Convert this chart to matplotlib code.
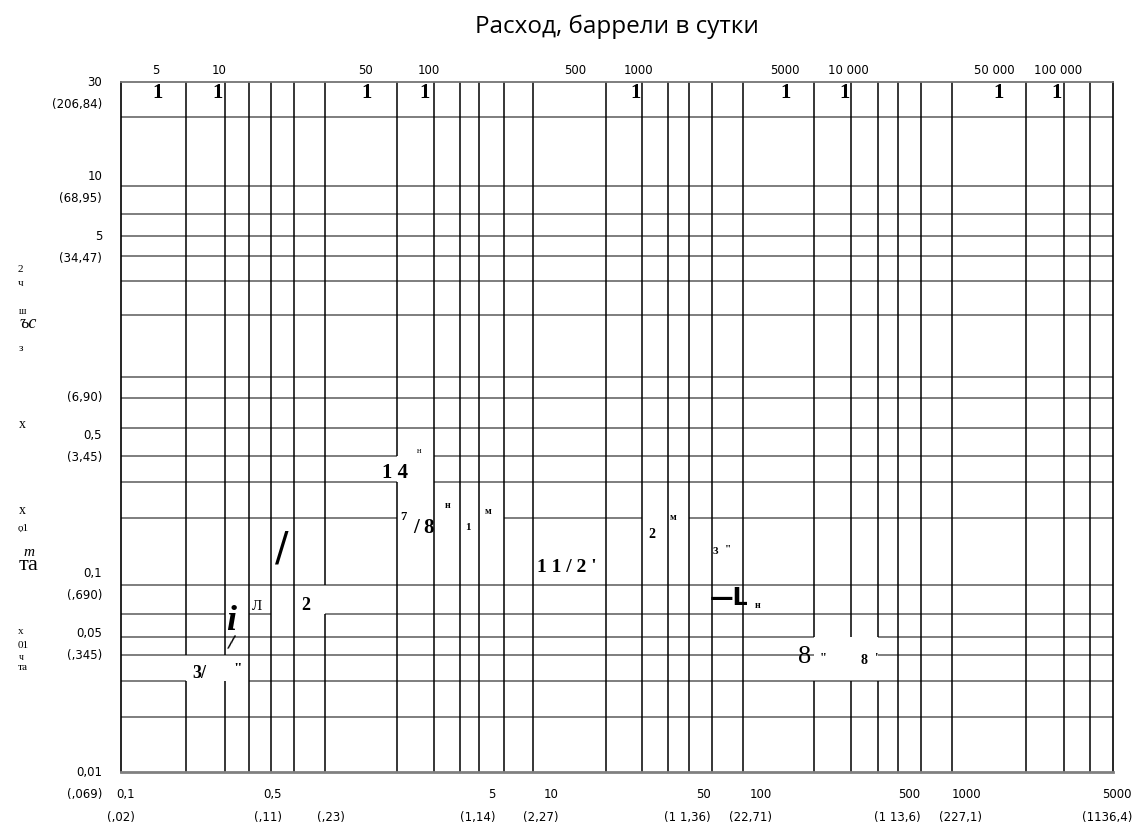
import matplotlib
matplotlib.use('Agg')
import matplotlib.pyplot as plt
from matplotlib.ticker import NullLocator

# top axis: flow, barrels per day
top_ticks = [5, 10, 50, 100, 500, 1000, 5000, 10000, 50000, 100000]
top_labels = ['5', '10', '50', '100', '500', '1000', '5000', '10 000', '50 000', '100 000']

# bottom axis: gal/min with m3/h in brackets
bottom_ticks = [0.1, 0.5, 1, 5, 10, 50, 100, 500, 1000, 5000]
bottom_labels = ['0,1\n(,02)', '0,5\n(,11)', '\n(,23)', '5\n(1,14)', '10\n(2,27)',
                 '50\n(1 1,36)', '100\n(22,71)', '500\n(1 13,6)', '1000\n(227,1)', '5000\n(1136,4)']
BBL_PER_GPM = 34.2857

# left axis
left_ticks = [30, 10, 5, 1, 0.5, 0.1, 0.05, 0.01]
left_top = ['30', '10', '5', '', '0,5', '0,1', '0,05', '0,01']
left_bottom = ['(206,84)', '(68,95)', '(34,47)', '(6,90)', '(3,45)', '(,690)', '(,345)', '(,069)']

# nomogram grid
grid_x = [7, 10.7, 14, 17.7, 22.8, 32, 71, 106, 141, 175, 229, 314, 700, 1040, 1380,
          1740, 2240, 3150, 6860, 10300, 13900, 17400, 22400, 31200, 70300, 107000, 142000]
grid_y = [20, 9.0, 6.5, 5.0, 4.0, 3.0, 2.0, 0.98, 0.77, 0.54, 0.39, 0.29, 0.19,
          0.088, 0.063, 0.048, 0.039, 0.029, 0.019]

# blank stretches in the scanned grid (index pairs into the other grid list)
h_gaps = {10: [(6, 7)], 11: [(6, 7)], 12: [(6, 10), (13, 15)], 14: [(1, 2), (3, 5)],
          15: [(18, 20)], 16: [(18, 20)], 17: [(0, 2)]}
v_gaps = {0: [(16, 17)], 1: [(16, 17)], 5: [(13, 14)], 6: [(10, 11)],
          18: [(15, 17)], 19: [(15, 17)], 20: [(15, 17)]}

XLIM = (3.42, 183500)
YLIM = (0.01, 30)

W, H = 1148, 827
fig = plt.figure(figsize=(W / 100, H / 100), dpi=100)
L, R, T, B = 121, 1113, 82, 772.3
ax = fig.add_axes([L / W, 1 - B / H, (R - L) / W, (B - T) / H])
ax.set_xscale('log')
ax.set_yscale('log')
ax.set_xlim(*XLIM)
ax.set_ylim(*YLIM)


def segments(lo, hi, gaps, coords):
    segs, start = [], lo
    for a, b in sorted(gaps):
        segs.append((start, coords[a]))
        start = coords[b]
    segs.append((start, hi))
    return segs


for i, y in enumerate(grid_y):
    for x0, x1 in segments(XLIM[0], XLIM[1], h_gaps.get(i, []), grid_x):
        ax.hlines(y, x0, x1, color='#747474', lw=1.3)
for j, x in enumerate(grid_x):
    for y0, y1 in segments(YLIM[1], YLIM[0], v_gaps.get(j, []), grid_y):
        ax.vlines(x, y0, y1, color='black', lw=1.1)

for s in ['left', 'right']:
    ax.spines[s].set_color('black')
    ax.spines[s].set_linewidth(1.2)
ax.spines['top'].set_color('#747474')
ax.spines['top'].set_linewidth(1.3)
ax.spines['bottom'].set_color('#808080')
ax.spines['bottom'].set_linewidth(2)

# top ticks
ax.xaxis.tick_top()
ax.set_xticks(top_ticks, top_labels)
ax.xaxis.set_minor_locator(NullLocator())
ax.tick_params(axis='x', length=0, pad=3.6, labelsize=8.5)

# left labels
ax.set_yticks([])
ax.yaxis.set_minor_locator(NullLocator())
ytr = ax.get_yaxis_transform()
for v, t1, t2 in zip(left_ticks, left_top, left_bottom):
    ax.annotate(t1, xy=(0, v), xycoords=ytr, xytext=(-13.5, 0), textcoords='offset points',
                ha='right', va='center', fontsize=8.5, annotation_clip=False)
    ax.annotate(t2, xy=(0, v), xycoords=ytr, xytext=(-13.5, -16), textcoords='offset points',
                ha='right', va='center', fontsize=8.5, annotation_clip=False)

# bottom axis in gpm
sec = ax.secondary_xaxis('bottom', functions=(lambda b: b / BBL_PER_GPM, lambda g: g * BBL_PER_GPM))
sec.set_xticks(bottom_ticks, bottom_labels)
sec.xaxis.set_minor_locator(NullLocator())
sec.tick_params(length=0, pad=11, labelsize=8.5)
sec.spines['bottom'].set_visible(False)
for t in sec.get_xticklabels():
    t.set_multialignment('right')
    t.set_linespacing(2.05)

fig.text(617 / W, 1 - 27 / H, 'Расход, баррели в сутки', ha='center', va='center',
         fontsize=17.5, family='Open Sans')

# scanned labels inside the grid (pixel positions of the scan)
serif = 'Liberation Serif'


def put(s, px, py, size, weight='bold', style='normal', family=serif, rot=0):
    ax.text((px - L) / (R - L), (B - py) / (B - T), s, transform=ax.transAxes,
            ha='center', va='center', fontsize=size, fontweight=weight,
            fontstyle=style, family=family, rotation=rot, clip_on=False)


for px in [157.5, 218, 367, 425, 635.5, 785.7, 844.3, 998.2, 1056.8]:
    put('1', px, 93, 15)

put('н', 419, 451, 6, weight='normal')
put('1 4', 395, 473, 15)
put('7', 403, 517, 9)
put('/ 8', 424, 528, 15)
put('н', 448, 505, 7)
put('1', 468, 528, 8)
put('м', 488, 511, 7)
put("1 1 / 2 '", 567, 567, 14)
put('2', 651.7, 535, 10)
put('м', 672.7, 518, 7)
put('3', 715, 552, 8)
put('"', 728, 549, 8)
put('—L', 729, 598, 17, family='DejaVu Sans')
put('н', 758, 605, 7)
put('8', 805, 657, 19, weight='normal')
put('"', 823, 658, 9)
put("8", 864, 661, 10)
put("'", 876, 658, 9)
put('/', 281.5, 549, 29, weight='normal', family='DejaVu Sans')
put('Л', 257, 607, 11, weight='normal')
put('2', 306, 606, 13)
put('i', 231, 621, 26, style='italic')
put('/', 231, 642, 13, weight='normal', family='DejaVu Sans', rot=-12)
put('3/', 199, 673, 13)
put('"', 238, 670, 11)

# garbled axis caption on the left
for s, px, py, size, style in [('2', 20.7, 269, 8, 'normal'), ('ч', 20.7, 283, 8, 'normal'),
                               ('ш', 23, 311, 7, 'normal'), ('ъс', 28, 324, 13, 'italic'),
                               ('з', 20.7, 349, 8, 'normal'), ('х', 22, 425, 10, 'normal'),
                               ('х', 22, 511, 10, 'normal'), ('ọ1', 23, 528, 8, 'normal'),
                               ('m', 29, 552, 11, 'italic'), ('та', 29, 566, 16, 'normal'),
                               ('х', 21, 631, 8, 'normal'), ('01', 23, 645, 8, 'normal'),
                               ('ч', 21, 658, 7, 'normal'), ('та', 23, 668, 8, 'normal')]:
    fig.text(px / W, 1 - py / H, s, ha='center', va='center', fontsize=size,
             fontstyle=style, family=serif)

fig.savefig('out.png', dpi=100)
